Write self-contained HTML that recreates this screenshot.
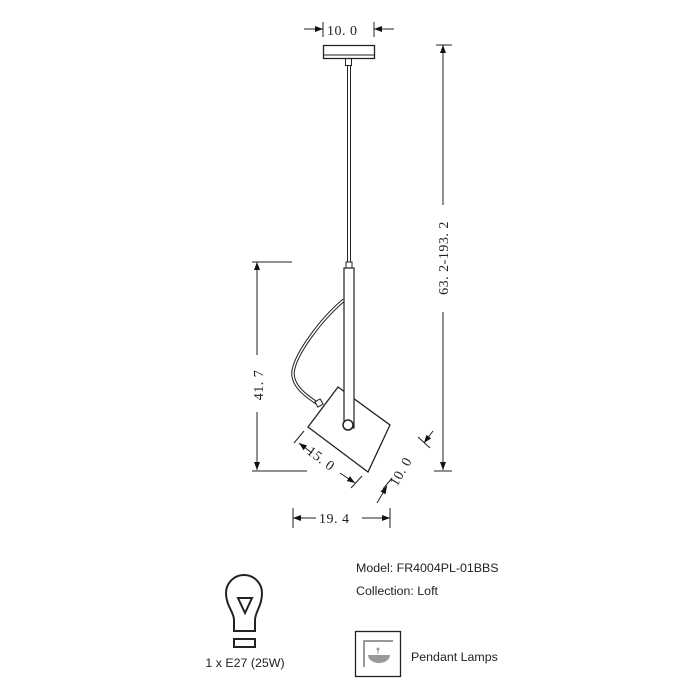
<!DOCTYPE html>
<html><head><style>
body{margin:0;background:#fff;}
svg{display:block}
.d{font-family:"Liberation Serif",serif;font-size:14px;fill:#222;letter-spacing:0.5px}
.s{font-family:"Liberation Sans",sans-serif;font-size:12.4px;fill:#222}
</style></head><body>
<svg width="700" height="700" viewBox="0 0 700 700" xmlns="http://www.w3.org/2000/svg">
<defs>
<marker id="a" markerWidth="8" markerHeight="6" refX="8" refY="3" orient="auto" markerUnits="userSpaceOnUse"><path d="M0,0 L8,3 L0,6 z" fill="#111"/></marker>
</defs>
<g stroke="#222" fill="none" stroke-width="1">
<line x1="323" y1="22" x2="323" y2="37"/><line x1="374" y1="22" x2="374" y2="37"/>
<line x1="304" y1="29" x2="323" y2="29" marker-end="url(#a)"/>
<line x1="394" y1="29" x2="374" y2="29" marker-end="url(#a)"/>
<rect x="323.5" y="45.5" width="51" height="13" stroke-width="1.3"/>
<line x1="323" y1="55" x2="374" y2="55"/>
<rect x="345.5" y="58.5" width="6" height="7"/>
<line x1="347.5" y1="65" x2="347.5" y2="262"/><line x1="350.5" y1="65" x2="350.5" y2="262"/>
<rect x="346" y="262" width="6" height="6"/>
<polygon points="338,387 390,425 368,472 308,427" fill="#fff" stroke-width="1.3"/>
<path d="M344,300 C320,320 295,355 293,372 C292,388 310,398 318,404" stroke-width="3.5"/>
<path d="M344,300 C320,320 295,355 293,372 C292,388 310,398 318,404" stroke="#fff" stroke-width="1.5"/>
<rect x="316" y="400" width="6" height="6" transform="rotate(-30 319 403)" fill="#fff"/>
<rect x="344" y="268" width="10" height="160" fill="#fff" stroke-width="1.2"/>
<circle cx="348" cy="425" r="5" fill="#fff" stroke-width="1.5"/>
<line x1="436" y1="45" x2="452" y2="45"/><line x1="434" y1="471" x2="452" y2="471"/>
<line x1="443" y1="205" x2="443" y2="45" marker-end="url(#a)"/>
<line x1="443" y1="312" x2="443" y2="470" marker-end="url(#a)"/>
<line x1="252" y1="262" x2="292" y2="262"/><line x1="252" y1="471" x2="307" y2="471"/>
<line x1="257" y1="355" x2="257" y2="262" marker-end="url(#a)"/>
<line x1="257" y1="412" x2="257" y2="470" marker-end="url(#a)"/>
<line x1="294" y1="443" x2="304" y2="431"/><line x1="351" y1="488" x2="362" y2="476"/>
<line x1="312" y1="453" x2="299" y2="443" marker-end="url(#a)"/>
<line x1="340" y1="473" x2="355" y2="483" marker-end="url(#a)"/>
<line x1="383" y1="489" x2="392" y2="478"/><line x1="418" y1="437" x2="430" y2="448"/>
<line x1="377" y1="503" x2="387" y2="486" marker-end="url(#a)"/>
<line x1="433" y1="431" x2="424" y2="443" marker-end="url(#a)"/>
<line x1="293" y1="508" x2="293" y2="528"/><line x1="390" y1="508" x2="390" y2="528"/>
<line x1="316" y1="518" x2="293" y2="518" marker-end="url(#a)"/>
<line x1="362" y1="518" x2="390" y2="518" marker-end="url(#a)"/>
<path d="M234,631 L234,620 C234,612 226,606 226,593 A18,18 0 1 1 262,593 C262,606 255,612 255,620 L255,631 Z" stroke-width="2"/>
<polygon points="238,598 252,598 245,613" stroke-width="2"/>
<rect x="234" y="639" width="21" height="8" stroke-width="2"/>
<rect x="355.5" y="631.5" width="45" height="45" stroke-width="1.3"/>
</g>
<g fill="#999">
<rect x="363" y="640" width="2" height="27"/><rect x="363" y="640" width="30" height="2"/>
<circle cx="378" cy="649" r="1.5"/><rect x="377.5" y="650" width="1" height="4"/>
<path d="M368,655 L390,655 A11,8 0 0 1 368,655 z"/>
</g>
<text class="d" x="327" y="35">10. 0</text>
<text class="d" transform="translate(448,258) rotate(-90)" text-anchor="middle">63. 2-193. 2</text>
<text class="d" transform="translate(263,385) rotate(-90)" text-anchor="middle">41. 7</text>
<text class="d" transform="translate(306,453) rotate(37)">15. 0</text>
<text class="d" transform="translate(397,487) rotate(-60)">10. 0</text>
<text class="d" x="319" y="523">19. 4</text>
<text class="s" x="356" y="572">Model: FR4004PL-01BBS</text>
<text class="s" x="356" y="595">Collection: Loft</text>
<text class="s" x="411" y="661">Pendant Lamps</text>
<text class="s" x="245" y="667" text-anchor="middle">1 x E27 (25W)</text>
</svg>
</body></html>
